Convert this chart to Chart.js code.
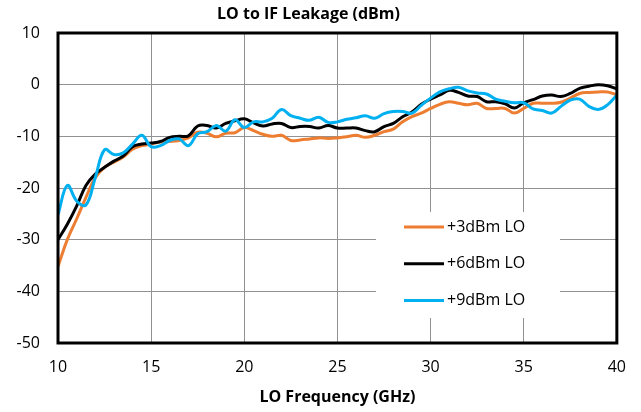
<!DOCTYPE html>
<html>
<head>
<meta charset="utf-8">
<script src="https://cdn.jsdelivr.net/npm/chart.js@4.4.1/dist/chart.umd.min.js"></script>
<style>
  html, body { margin: 0; padding: 0; background: #fff; }
  #wrap { width: 641px; height: 412px; }
</style>
</head>
<body>
<div id="wrap"><canvas id="leak"></canvas></div>
<script>
// LO周波数 (GHz)
const freqs = [10, 10.5, 11, 11.5, 12, 12.5, 13, 13.5, 14, 14.5,
  15, 15.5, 16, 16.5, 17, 17.5, 18, 18.5, 19, 19.5,
  20, 20.5, 21, 21.5, 22, 22.5, 23, 23.5, 24, 24.5,
  25, 25.5, 26, 26.5, 27, 27.5, 28, 28.5, 29, 29.5,
  30, 30.5, 31, 31.5, 32, 32.5, 33, 33.5, 34, 34.5,
  35, 35.5, 36, 36.5, 37, 37.5, 38, 38.5, 39, 39.5, 40];

// +3dBm LO
const lo3 = [-35.2, -30, -26, -21.8, -18, -16, -15, -14, -12.5, -11.8,
  -11.5, -11.1, -11, -10.8, -10.3, -9.2, -9.4, -10.1, -9.4, -9.3,
  -8.3, -8.9, -9.6, -10, -9.8, -10.8, -10.7, -10.5, -10.3, -10.4,
  -10.3, -10.1, -9.8, -10.2, -9.8, -9.1, -8.6, -7.2, -6.2, -5.5,
  -4.6, -3.8, -3.3, -3.6, -3.9, -3.6, -4.6, -4.6, -4.6, -5.5,
  -4.6, -3.6, -3.6, -3.6, -3.4, -2.6, -1.7, -1.5, -1.4, -1.4, -2.0];

// +6dBm LO
const lo6 = [-30, -27, -23.5, -19.5, -17.3, -16, -14.8, -13.8, -12, -11.5,
  -11.3, -11, -10.2, -10, -9.9, -8, -7.9, -8.4, -7.5, -7,
  -6.6, -7.4, -8, -7.6, -7.5, -8.3, -8.1, -8.1, -8.4, -7.9,
  -8.4, -8.4, -8.4, -8.9, -9.1, -8.1, -7.5, -6.2, -5.3, -3.8,
  -2.8, -2.0, -1.1, -1.5, -2.2, -2.3, -3.3, -3.3, -3.7, -4.5,
  -3.5, -2.9, -2.2, -2.0, -2.3, -1.7, -0.7, -0.3, 0.0, -0.2, -0.8];

// +9dBm LO
const lo9 = [-25.2, -19.5, -22.5, -23.3, -18, -12.6, -13.5, -13.2, -11.5, -9.8,
  -12, -11.8, -10.8, -10.5, -11.8, -9.5, -9.1, -7.9, -9.0, -6.8,
  -8.3, -7.2, -7.2, -6.5, -4.8, -6.0, -6.5, -6.9, -6.3, -7.3,
  -7.2, -6.7, -6.4, -6.0, -6.5, -5.6, -5.2, -5.2, -5.5, -4.0,
  -2.6, -1.4, -0.8, -0.5, -1.2, -1.6, -1.8, -2.8, -3.2, -3.5,
  -3.5, -4.7, -5.0, -5.5, -4.2, -3.0, -2.8, -4.2, -4.8, -3.9, -2.0];

const seriesNames = ['+3dBm LO', '+6dBm LO', '+9dBm LO'];
const seriesColors = ['#ED7D31', '#000000', '#00B0F0'];

const FONT = "'Open Sans', 'DejaVu Sans', sans-serif";

const toPoints = (ys) => freqs.map((f, i) => ({ x: f, y: ys[i] }));

// 枠線と凡例を描くプラグイン
const frameAndLegend = {
  id: 'frameAndLegend',
  afterDatasetsDraw(chart) {
    const { ctx, chartArea: a } = chart;
    ctx.save();
    // 凡例（白い背景）
    const bx = 376, by = 212, bw = 184, bh = 106;
    ctx.fillStyle = '#fff';
    ctx.fillRect(bx, by, bw, bh);
    ctx.font = '16px ' + FONT;
    ctx.textBaseline = 'middle';
    ctx.textAlign = 'left';
    seriesNames.forEach((name, i) => {
      const y = 227 + i * 36.7;
      ctx.strokeStyle = seriesColors[i];
      ctx.lineWidth = 3;
      ctx.beginPath();
      ctx.moveTo(404, y);
      ctx.lineTo(444, y);
      ctx.stroke();
      ctx.fillStyle = '#000';
      ctx.fillText(name, 447, y);
    });
    // プロットエリアの太枠
    ctx.strokeStyle = '#000';
    ctx.lineWidth = 3;
    ctx.strokeRect(a.left, a.top, a.right - a.left, a.bottom - a.top);
    ctx.restore();
  },
};

const ctx = document.getElementById('leak').getContext('2d');
new Chart(ctx, {
  type: 'line',
  data: {
    datasets: [
      { label: seriesNames[0], data: toPoints(lo3), borderColor: seriesColors[0], order: 3 },
      { label: seriesNames[1], data: toPoints(lo6), borderColor: seriesColors[1], order: 2 },
      { label: seriesNames[2], data: toPoints(lo9), borderColor: seriesColors[2], order: 1 },
    ],
  },
  options: {
    responsive: true,
    maintainAspectRatio: false,
    animation: false,
    layout: { padding: { left: 0, right: 24, top: 0, bottom: 0 } },
    elements: {
      line: { borderWidth: 3, tension: 0.4, fill: false },
      point: { radius: 0 },
    },
    plugins: {
      legend: { display: false },
      tooltip: { enabled: false },
      title: {
        display: true,
        text: 'LO to IF Leakage (dBm)',
        color: '#000',
        font: { family: FONT, size: 16, weight: 'bold' },
        padding: { top: 5, bottom: 8.8 },
      },
    },
    scales: {
      x: {
        type: 'linear',
        min: 10,
        max: 40,
        afterFit: (s) => { s.height = 69; },
        ticks: { stepSize: 5, color: '#000', padding: 15, font: { family: FONT, size: 16 } },
        grid: { color: '#929292', lineWidth: 1, drawTicks: false },
        border: { display: false },
        title: {
          display: true,
          text: 'LO Frequency (GHz)',
          color: '#000',
          font: { family: FONT, size: 16, weight: 'bold' },
          padding: { top: 0, bottom: 5 },
        },
      },
      y: {
        min: -50,
        max: 10,
        afterFit: (s) => { s.width = 58; },
        ticks: { stepSize: 10, color: '#000', padding: 18, font: { family: FONT, size: 16 } },
        grid: { color: '#929292', lineWidth: 1, drawTicks: false },
        border: { display: false },
      },
    },
  },
  plugins: [frameAndLegend],
});
</script>
</body>
</html>
